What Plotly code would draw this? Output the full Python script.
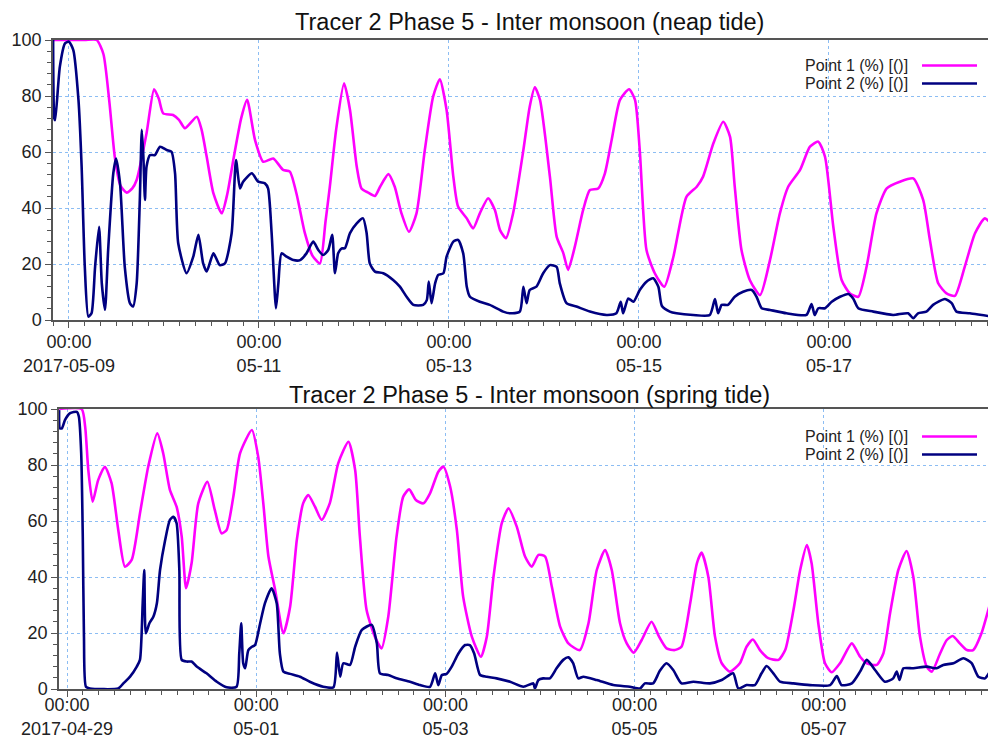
import pandas as pd
import plotly.graph_objects as go

# ---------------- data ----------------
# Top panel (neap tide): hours relative to 2017-05-09 00:00
neap_base = "2017-05-09 00:00"
neap_p1_h = [-4, 0, 4, 7, 8.7, 10.2, 11.6, 13, 14.6, 16, 17.1, 19.6, 21.5, 22.7, 23.8, 26.3, 27.8, 29.3,
             32.3, 33.5, 34.8, 36.5, 38.6, 40, 41.5, 43.5, 45, 47, 49.1, 51.6, 54.1, 55.8, 57.5, 59.6,
             61.5, 63.4, 64.8, 65.9, 67.5, 69.5, 71, 72.7, 73.9, 75.6, 77.3, 78.6, 80.7, 82.3, 84,
             85.9, 87.8, 89.9, 92, 93.7, 95.4, 97.1, 98.3, 100.5, 102.1, 103.8, 105.9, 107.6, 108.9,
             110.4, 112.2, 114.8, 116.4, 117.7, 119, 121.5, 123.2, 124.9, 126.1, 127.8, 129.9, 131.6,
             133.7, 135.4, 137.1, 139.2, 141.5, 143, 144.2, 145.9, 148, 150.4, 152.7, 156, 158.6,
             160.2, 162.8, 165.3, 167, 168.2, 169.9, 172, 174.6, 177.1, 179.6, 181.7, 184.7, 187.2,
             189.3, 191, 193.1, 195.2, 197.3, 199.4, 201.5, 204, 206.6, 209.9, 213.3, 215.8, 217.5,
             219.6, 221.7, 223.8, 226.3, 228.9, 231.4, 234.2]
neap_p1_v = [100, 100, 100, 100, 95, 78, 58, 48, 45.5, 47, 50, 66.7, 82.4, 79, 73.8, 73.2, 71.5, 68.5,
             72.6, 68, 58.3, 45.2, 38.1, 45, 57, 72, 78.6, 64.3, 56.5, 57.7, 53.6, 53, 45, 31,
             23, 20.2, 35, 47.6, 68, 84.5, 75, 54.8, 47, 45.5, 44.3, 47.6, 52.1, 47.6, 38.1,
             31.5, 38.1, 60.7, 79.8, 86, 75, 51.2, 40.5, 36.3, 32.7, 38.1, 43.5, 39.3, 32.1,
             29.2, 38.1, 60.7, 76.2, 83.1, 78.6, 51.2, 29.8, 23.8, 17.9, 26.2, 39.3, 46.4,
             47, 52.4, 64.3, 78.6, 82.4, 78.6, 60.7, 25, 16.7, 11.9, 22.6, 44, 47.6,
             51.2, 63.1, 70.8, 65.5, 47.6, 25, 14.3, 8.9, 21.4, 38.1, 47.6, 53.6, 61.9,
             63.7, 58.3, 33.3, 14.3, 9.5, 8.3, 19, 38.1, 47, 49.4, 50.6, 42.9, 28.6,
             13.1, 9.5, 8.6, 19, 31, 36.3, 32.1]

neap_p2_h = [-4, -3.7, -3.5, -2.3, -1, 0, 1.1, 2.4, 3.2, 4, 4.9, 5.7, 6.6, 7.6, 8.3, 9.1, 9.9, 11.2,
             11.9, 12.9, 14.1, 15.4, 16.2, 17.1, 17.9, 18.4, 18.8, 19.2, 19.6, 20.5, 21.7, 23, 24.7,
             25.9, 26.8, 27.6, 29.7, 31.4, 32.7, 33.9, 34.8, 36.5, 38.1, 39.4, 41.1, 42.2, 43.2, 44,
             46.2, 47.8, 49.5, 50.3, 51.2, 52.3, 52.9, 53.7, 55, 56.7, 58.4, 60, 61.7, 63, 64.2, 65.5,
             66.5, 67.2, 68, 68.9, 69.7, 71, 72.7, 74.3, 75.2, 76, 77.3, 79.4, 81.9, 83.6, 85.3, 87,
             89.5, 90.4, 90.9, 91.6, 92.5, 93.3, 94.6, 95.4, 97.1, 98.3, 99.6, 100.5, 101.3, 103.8,
             106.3, 109.7, 111.4, 113.9, 114.8, 115.6, 116.4, 118.1, 119.8, 121.5, 123.2, 124,
             125.7, 128.2, 131.6, 135.8, 138.3, 139.4, 140, 141.3, 142.6, 144.2, 145.9, 147.6,
             148.9, 149.8, 151.8, 153.5, 157.7, 161.9, 163.2, 164, 164.9, 166.5, 168.2, 170.3,
             172.5, 173.7, 175, 177.1, 181.3, 186.3, 187.6, 188.4, 189.3, 191, 192.7, 194.8, 196.9,
             198.1, 199.4, 203.2, 208.2, 212, 213.3, 214.5, 216.6, 218.3, 221.3, 223, 224.2, 227.6,
             233.5, 234.2]
neap_p2_v = [100, 72, 71.4, 90.5, 98.8, 99.4, 96.4, 78.6, 54.8, 19, 1.2, 2.4, 19, 33.3, 13, 3.6, 25, 52.4,
             57.7, 48.8, 19, 6, 4.8, 13, 42.9, 67.9, 58.3, 42.9, 54.8, 58.9, 58.9, 61.9, 60.7,
             60.1, 52.4, 27.4, 16.7, 22.6, 30.4, 20.2, 17.3, 23.8, 19.6, 20.2, 31, 57.1, 47, 49.4,
             52.4, 49.4, 48.8, 47, 31, 4.2, 13, 23.8, 22.6, 21.4, 21.4, 23.8, 28, 25, 23.2, 25,
             30.4, 16.7, 23.8, 25.6, 25.6, 31, 34.5, 36.3, 31, 20.2, 17.3, 16.7, 14.3, 11.9, 8.3, 5.4,
             5.4, 7.1, 13.7, 6, 13.1, 16.1, 16.7, 22.6, 28, 28.6, 23.8, 11.9, 8.3, 6.5,
             5.4, 3, 2.4, 3, 11.9, 6, 10.7, 11.9, 16.7, 19.6, 19, 13.1,
             6, 4.8, 3, 1.8, 2.4, 6.5, 2.4, 7.7, 6.5, 10.7, 13.7, 14.9,
             11.9, 5, 3, 2.4, 1.8, 1.8, 7.5, 2.4, 5.4, 5.4, 8.3, 10.1,
             10.7, 8.3, 4.2, 3.6, 2.4, 1.8, 5.7, 1.8, 4.2, 4.2, 6.5, 8.3, 9.3,
             7.7, 4.2, 3, 1.8, 2.4, 0.6, 2.4, 3, 5.4, 7.5, 6, 3, 2.4,
             1.2, 1.2]

# Bottom panel (spring tide): hours relative to 2017-04-29 00:00
spring_base = "2017-04-29 00:00"
spring_p1_h = [-2, 3.7, 4.6, 5.4, 6.5, 7.9, 9.6, 11.3, 13, 14.7, 16.4, 18.5, 20.6, 22.9, 24.4, 26.1,
               27.8, 29.1, 30.2, 31.6, 33.3, 35.6, 37.5, 39.2, 40.5, 42.2, 43.9, 46.9, 48.5, 49.8,
               51.1, 52.8, 54.9, 56.6, 58.3, 59.9, 61.2, 62.9, 64.6, 66.7, 68.8, 71.4, 73.1, 74.3,
               76, 78.1, 79.8, 81.5, 83.6, 85.3, 86.8, 88.5, 90.4, 92.1, 94.2, 95.5, 97.2, 98.9,
               100.5, 102.7, 105, 106.5, 108.2, 110.3, 112, 114.1, 116.2, 117.9, 119.6, 121.3, 123,
               125.1, 127.2, 130.1, 132.3, 134.4, 136.5, 138.2, 140.3, 142, 143.8, 145.8, 148.3,
               150.2, 152.1, 154.2, 155.9, 158.1, 159.8, 161, 162.7, 164.4, 166.1, 168.2, 170.7,
               172.4, 174, 175.8, 177.9, 180.5, 182.2, 184.3, 186, 187.7, 188.9, 190.6, 192.3, 194,
               196.1, 199.1, 201.2, 202.9, 205.4, 207.1, 208.8, 210.9, 213, 214.7, 216.4, 218.1,
               219.4, 221.5, 223.2, 224.7, 226.5, 228.3, 229.9, 232, 234.2, 235.7]
spring_p1_v = [100, 100, 93.7, 78.2, 66.9, 74.6, 79.4, 73.5, 56.8, 43.7, 46.1, 62.7, 79.4, 91.3, 84.2, 71.1,
               65.1, 54.4, 36, 44.9, 66.3, 74, 63.9, 55.6, 56.8, 68.7, 84.2, 92.5, 83, 66.3,
               47.3, 35.4, 19.9, 29.4, 53.2, 66.3, 69.3, 65.1, 60.4, 66.5, 80.6, 88.3, 78.2, 54.4,
               28.2, 18.7, 14.5, 25.8, 54.4, 68.7, 71.3, 67.5, 66.3, 69.9, 77.6, 79.4, 72.3, 56.8,
               33, 18.7, 11.5, 18.7, 40.1, 59.2, 64.5, 58, 47.3, 43.7, 47.9, 47.3, 36.5,
               22.3, 16.3, 13.9, 23.5, 42.5, 49.6, 42.5, 23.5, 16.3, 13, 17.5, 24,
               18.7, 14.5, 13.9, 15.1, 30.6, 44.9, 48.7, 40.1, 18.7, 9.2, 6.2, 9.2,
               15.1, 17.7, 13.9, 11, 10.4, 13.9, 28.2, 42.5, 51.4, 44.9, 23.5, 9.2, 6,
               9.2, 16.3, 11.5, 9.2, 8.6, 12.7, 27, 42.5, 49.3, 40.1, 18.7, 8,
               6.2, 12.7, 17.5, 18.9, 16.3, 13.9, 13.9, 19.9, 30.6, 37.7]

spring_p2_h = [-2, -1.8, -1.3, -0.5, 0.8, 2.5, 3, 3.6, 4, 4.3, 4.8, 5.8, 13, 14.3, 16, 17.7, 18.5, 19.2,
               19.6, 20, 20.9, 21.9, 22.8, 23.6, 24.9, 26.1, 27, 27.8, 28.5, 29.1, 30.4, 31.6, 32.9,
               35.4, 38, 40.5, 43, 43.7, 44.2, 44.7, 45.2, 46, 46.9, 47.7, 49, 50.2, 51.9, 53.2, 54,
               54.9, 56.6, 59.1, 61.6, 65, 67.6, 68.5, 69.3, 70.1, 71.8, 73.1, 74.8, 77.3, 78.6, 79.4,
               81.5, 83.6, 87, 89.6, 92.1, 93.4, 94.2, 95.1, 96.3, 97.6, 99.3, 101, 102.2, 103.3,
               104.8, 106.5, 109, 112.4, 115.8, 118.3, 118.7, 119.6, 120.8, 122.5, 124.2, 125.9,
               127.2, 128.4, 129.7, 131, 134.4, 138.6, 142.8, 145.4, 146.6, 148.7, 150.4, 152.1,
               153.8, 155.9, 158.9, 163.1, 166.1, 169, 170.3, 172.4, 174.5, 176.2, 177.5, 179.2,
               180.9, 184.3, 188.5, 193.6, 195.3, 196.5, 199.1, 201.2, 202.9, 205, 207.5, 209.6,
               210.5, 211.2, 212.2, 214.7, 218.1, 220.6, 222.3, 224.9, 227.4, 229.5, 231.2, 232.9,
               235, 235.7]
spring_p2_v = [99.6, 93.1, 93.1, 96.1, 98.5, 99, 97.3, 84.2, 54.4, 18.7, 0.8, 0.2, 0.2, 2, 4.4, 8, 10.4, 30.6,
               42.5, 19.9, 23.5, 25.8, 30.6, 42.5, 53.2, 60.4, 61.5, 59.2, 42.5, 10.4, 9.8, 9.8, 8,
               5.6, 2.6, 0.6, 0.8, 12.7, 23.5, 9.2, 7.4, 13.9, 15.1, 15.7, 23.5, 30.6, 36, 30.6, 12.7,
               6.2, 5.4, 4.4, 2.6, 0.8, 0.6, 13, 4.4, 9.2, 8.6, 15.1, 21.1, 22.9, 16.3, 5.6,
               5, 3.8, 2.6, 1.4, 0.8, 5.6, 1.4, 5, 5.4, 8, 12.7, 15.7, 15.7, 12.7,
               5, 4.4, 3.8, 2.6, 0.8, 2, 0.2, 3.2, 3.8, 3.8, 7.4, 10.4,
               11.3, 9.2, 3.8, 4.4, 3.2, 1.4, 0.8, 0.2, 2, 2, 6.5, 9.2,
               6.8, 2, 2.6, 2, 3.2, 5.6, 0.2, 1.4, 1.4, 5.6, 8.2, 5.6,
               2.6, 2, 1.4, 1.4, 4.6, 1.4, 2, 6.2, 10.4, 6.8, 2.6, 3.8,
               6.2, 3.2, 7.4, 7.4, 8, 7.4, 8.6, 9.2, 11, 9.2, 4.4, 3.8,
               8, 8.2]

series_names = ["Point 1 (%) [()]", "Point 2 (%) [()]"]
series_colors = ["#ff00ff", "#000080"]
titles = ["Tracer 2 Phase 5 - Inter monsoon (neap tide)",
          "Tracer 2 Phase 5 - Inter monsoon (spring tide)"]

neap_ticks = ["2017-05-09", "2017-05-11", "2017-05-13", "2017-05-15", "2017-05-17"]
neap_ticktext = ["00:00<br>2017-05-09", "00:00<br>05-11", "00:00<br>05-13", "00:00<br>05-15", "00:00<br>05-17"]
spring_ticks = ["2017-04-29", "2017-05-01", "2017-05-03", "2017-05-05", "2017-05-07"]
spring_ticktext = ["00:00<br>2017-04-29", "00:00<br>05-01", "00:00<br>05-03", "00:00<br>05-05", "00:00<br>05-07"]
neap_range = ["2017-05-08 19:58", "2017-05-18 18:12"]
spring_range = ["2017-04-28 21:58", "2017-05-08 19:41"]
y_ticks = [0, 20, 40, 60, 80, 100]


def to_time(base, hours):
    return pd.Timestamp(base) + pd.to_timedelta(hours, unit="h")


# The page body has an 8px margin: the figure is sized to fill the rest of the window.
OFF = 8
W, H = 996 - OFF, 738 - OFF


def px(xwin):
    return (xwin - OFF) / W


def py(ywin):
    return 1 - (ywin - OFF) / H


FONT = "Liberation Sans, Arial, sans-serif"
fig = go.Figure()

panels = [
    (neap_base, [(neap_p1_h, neap_p1_v), (neap_p2_h, neap_p2_v)], "x", "y"),
    (spring_base, [(spring_p1_h, spring_p1_v), (spring_p2_h, spring_p2_v)], "x2", "y2"),
]
for base, series, xa, ya in panels:
    for (hh, vv), name, col in zip(series, series_names, series_colors):
        fig.add_trace(go.Scatter(
            x=to_time(base, hh), y=vv, mode="lines", name=name,
            line=dict(color=col, width=2.6, shape="spline", smoothing=0.6),
            xaxis=xa, yaxis=ya, showlegend=False, hoverinfo="x+y+name"))

axis_common = dict(
    showline=True, linecolor="#555555", linewidth=1.5,
    ticks="outside", ticklen=6, tickwidth=1, tickcolor="#555555",
    showgrid=True, gridcolor="#8cbdf3", gridwidth=1, griddash="dot",
    zeroline=False, automargin=False,
    tickfont=dict(family=FONT, size=18, color="#222222"),
)

fig.update_layout(
    width=W, height=H, autosize=False,
    margin=dict(l=0, r=0, t=0, b=0, pad=0),
    paper_bgcolor="white", plot_bgcolor="white",
    xaxis=dict(axis_common, domain=[px(53), 1], type="date", range=neap_range,
               tickmode="array", tickvals=neap_ticks, ticktext=neap_ticktext, mirror=True,
               anchor="y", ticklabelstandoff=-1,
               minor=dict(dtick=4 * 3600 * 1000, tick0="2017-05-09", ticks="outside",
                          ticklen=4, tickcolor="#555555", showgrid=False)),
    yaxis=dict(axis_common, domain=[py(320), py(40)], range=[0, 100], tickmode="array",
               tickvals=y_ticks, anchor="x",
               minor=dict(dtick=4, tick0=0, ticks="outside", ticklen=4, tickcolor="#555555",
                          showgrid=False)),
    xaxis2=dict(axis_common, domain=[px(59), 1], type="date", range=spring_range,
                tickmode="array", tickvals=spring_ticks, ticktext=spring_ticktext, mirror=True,
                anchor="y2", ticklabelstandoff=-7,
                minor=dict(dtick=4 * 3600 * 1000, tick0="2017-04-29", ticks="outside",
                           ticklen=4, tickcolor="#555555", showgrid=False)),
    yaxis2=dict(axis_common, domain=[py(689), py(409)], range=[0, 100], tickmode="array",
                tickvals=y_ticks, anchor="x2",
                minor=dict(dtick=4, tick0=0, ticks="outside", ticklen=4, tickcolor="#555555",
                           showgrid=False)),
)

annotations = []
shapes = []
# titles
for title, ypix in zip(titles, [22, 395]):
    annotations.append(dict(text=title, x=px(529), y=py(ypix), xref="paper", yref="paper",
                            xanchor="center", yanchor="middle", showarrow=False,
                            font=dict(family=FONT, size=23.5, color="#111111")))
# legends (text left of line sample)
for legend_rows in ([65.5, 83.5], [436.5, 454.5]):
    for name, col, ypix in zip(series_names, series_colors, legend_rows):
        annotations.append(dict(text=name, x=px(910), y=py(ypix), xref="paper", yref="paper",
                                xanchor="right", yanchor="middle", showarrow=False,
                                font=dict(family=FONT, size=16, color="#222222")))
        shapes.append(dict(type="line", xref="paper", yref="paper",
                           x0=px(922), x1=px(977), y0=py(ypix), y1=py(ypix),
                           line=dict(color=col, width=2.6)))
fig.update_layout(annotations=annotations, shapes=shapes)

fig.write_html("out.html")
